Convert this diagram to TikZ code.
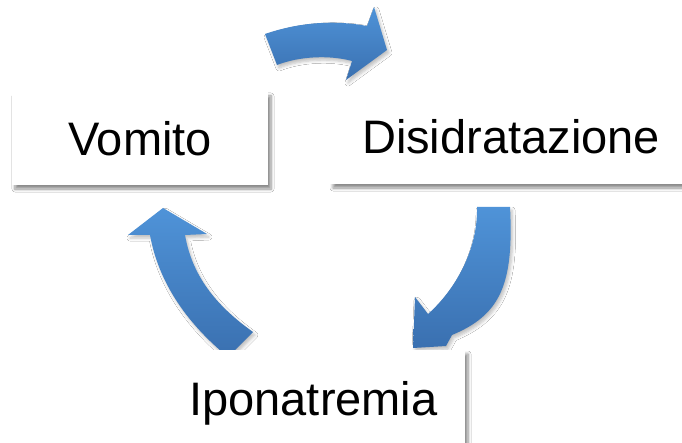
\documentclass[tikz,border=0pt]{standalone}
\usepackage{fontspec}
\setmainfont{Liberation Sans}
\usepackage{tikz}
\usetikzlibrary{positioning,shadows,shadows.blur}
\definecolor{cycleTop}{HTML}{4F93D8}
\definecolor{cycleBottom}{HTML}{3A70B0}
\definecolor{boxShadow}{HTML}{808080}

\begin{document}
\begin{tikzpicture}[x=1pt, y=-1pt,
    stepbox/.style={rectangle, fill=white, inner sep=0pt,
        font=\fontsize{47}{56}\selectfont,
        blur shadow={shadow xshift=3pt, shadow yshift=-4pt, shadow blur steps=6,
            shadow blur radius=3pt, shadow opacity=45}},
    cyclearrow/.style={top color=cycleTop, bottom color=cycleBottom,
        blur shadow={shadow xshift=2pt, shadow yshift=-3pt, shadow blur steps=5,
            shadow blur radius=3pt, shadow opacity=25}}]
    \fill[white] (0,0) rectangle (682,443);
    \useasboundingbox (0,0) rectangle (682,443);
    % curved arrows of the cycle
    \shade[cyclearrow] (265,34) .. controls (300,22) and (335,20) .. (367,26) -- (374,7) -- (387,50)
        -- (346,80) -- (352,61) .. controls (330,55) and (300,56) .. (277,65) -- cycle;
    \shade[cyclearrow] (477,207) -- (510,207) .. controls (514,285) and (500,315) .. (452,335)
        -- (446,346) -- (413,348) -- (415,297) -- (428,314) .. controls (455,290) and (478,250) .. (477,207) -- cycle;
    \shade[cyclearrow] (163,208) -- (207,234) -- (185,235) .. controls (192,275) and (215,305) .. (253,332)
        -- (228,357) .. controls (195,330) and (160,290) .. (150,235) -- (128,235) -- cycle;
    % the three stages
    \node[stepbox, minimum width=256pt, minimum height=93pt] (vomito) at (140,138.5) {Vomito};
    \node[stepbox, minimum width=362pt, minimum height=94pt] (disidratazione) at (511,137) {Disidratazione};
    \node[stepbox, minimum width=303pt, minimum height=106pt] (iponatremia) at (313.5,403) {Iponatremia};
\end{tikzpicture}
\end{document}
